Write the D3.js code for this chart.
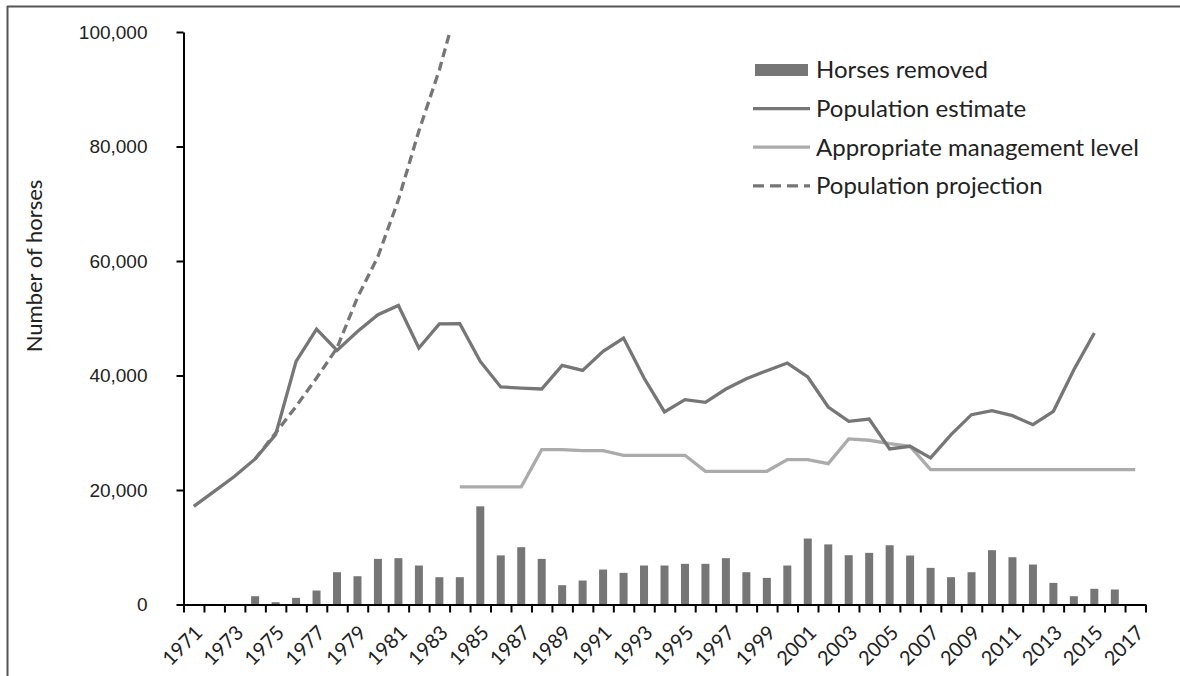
<!DOCTYPE html>
<html>
<head>
<meta charset="utf-8">
<script src="https://cdn.jsdelivr.net/npm/d3@7"></script>
<style>
  body { margin: 0; background: #fff; }
  svg { display: block; font-family: Lato, "Open Sans", sans-serif; }
  .axis path, .axis line { stroke: #000; stroke-width: 2; }
  .axis text { font-size: 19px; fill: #222; }
</style>
</head>
<body>
<script>
// horse counts
var years = d3.range(1971, 2018);

var removedYears = d3.range(1974, 2017);
var removed = [1450, 400, 1160, 2440, 5640, 4940, 7970, 8090, 6810, 4770,
    4770, 17150, 8580, 10010, 7970, 3370, 4190, 6110, 5530, 6810,
    6810, 7100, 7100, 8090, 5640, 4650, 6810, 11520, 10500, 8610,
    9020, 10350, 8550, 6400, 4770, 5640, 9480, 8260, 6980, 3780,
    1450, 2740, 2620];

var estimateYears = d3.range(1971, 2016);
var estimate = [17150, 19770, 22390, 25430, 29670, 42460, 48110, 44380, 47700, 50610,
    52230, 44800, 49000, 49040, 42460, 38000, 37800, 37640, 41760, 40900,
    44210, 46540, 39560, 33630, 35780, 35320, 37640, 39440, 40840, 42180,
    39740, 34500, 31990, 32400, 27170, 27630, 25600, 29670, 33160, 33860,
    32980, 31410, 33740, 41010, 47420];

var amlYears = d3.range(1984, 2018);
var aml = [20540, 20540, 20540, 20540, 27050, 27050, 26880, 26880, 26060, 26060,
    26060, 26060, 23270, 23270, 23270, 23270, 25300, 25300, 24600, 28920,
    28690, 28100, 27630, 23560, 23560, 23560, 23560, 23560, 23560, 23560,
    23560, 23560, 23560, 23560];

var projectionYears = d3.range(1974, 1985);
var projection = [25430, 29960, 34600, 39560, 44800, 53630, 60790, 70680, 82720, 93370, 106300];

var yTicks = [0, 20000, 40000, 60000, 80000, 100000];
var legendItems = ["Horses removed", "Population estimate", "Appropriate management level", "Population projection"];

var width = 1180,
    height = 676;

var dark = "#767676",
    light = "#ababab";

var svg = d3.select("body")
    .append("svg")
    .attr("width", width)
    .attr("height", height);

//frame lines at the top and left
svg.append("line").attr("x1", 7).attr("y1", 6.5).attr("x2", width).attr("y2", 6.5)
    .attr("stroke", "#555").attr("stroke-width", 2);
svg.append("line").attr("x1", 7.5).attr("y1", 6).attr("x2", 7.5).attr("y2", height)
    .attr("stroke", "#555").attr("stroke-width", 2);

var plotLeft = 183.5, plotRight = 1145.5, plotTop = 32, plotBottom = 604.5;

var x = d3.scaleLinear()
    .domain([1970.5, 2017.5])
    .range([plotLeft, plotRight]);

var y = d3.scaleLinear()
    .domain([0, 100000])
    .range([plotBottom, plotTop]);

svg.append("defs").append("clipPath")
    .attr("id", "plot")
    .append("rect")
    .attr("x", plotLeft).attr("y", plotTop)
    .attr("width", plotRight - plotLeft).attr("height", plotBottom - plotTop);

//bars
var barW = 8;
svg.selectAll(".bar")
    .data(removedYears)
    .enter()
    .append("rect")
    .attr("class", "bar")
    .attr("x", function(d){ return x(d) - barW / 2; })
    .attr("y", function(d, i){ return y(removed[i]); })
    .attr("width", barW)
    .attr("height", function(d, i){ return plotBottom - y(removed[i]); })
    .attr("fill", dark);

var line = d3.line()
    .x(function(d){ return x(d[0]); })
    .y(function(d){ return y(d[1]); });

function pairs(ys, vs){
    return ys.map(function(yr, i){ return [yr, vs[i]]; });
}

svg.append("path")
    .datum(pairs(amlYears, aml))
    .attr("d", line)
    .attr("fill", "none")
    .attr("stroke", light)
    .attr("stroke-width", 3.3);

svg.append("path")
    .datum(pairs(estimateYears, estimate))
    .attr("d", line)
    .attr("fill", "none")
    .attr("stroke", dark)
    .attr("stroke-width", 3.3);

svg.append("path")
    .datum(pairs(projectionYears, projection))
    .attr("d", line)
    .attr("clip-path", "url(#plot)")
    .attr("fill", "none")
    .attr("stroke", dark)
    .attr("stroke-width", 3.3)
    .attr("stroke-dasharray", "9,5");

//y axis
svg.append("g")
    .attr("class", "axis")
    .attr("transform", "translate(" + plotLeft + ",0)")
    .call(d3.axisLeft(y).tickValues(yTicks).tickFormat(d3.format(",")).tickSize(7).tickSizeOuter(0).tickPadding(29));

//x axis: ticks between the years
svg.append("g")
    .attr("class", "axis")
    .attr("transform", "translate(0," + plotBottom + ")")
    .call(d3.axisBottom(x).tickValues(d3.range(1970.5, 2018, 1)).tickFormat("").tickSize(8).tickSizeOuter(0));

svg.selectAll(".xlabel")
    .data(years.filter(function(d){ return d % 2 == 1; }))
    .enter()
    .append("text")
    .attr("class", "xlabel")
    .attr("transform", function(d){ return "translate(" + (x(d) + 5) + ",629) rotate(-45)"; })
    .attr("text-anchor", "end")
    .attr("dy", "0.35em")
    .attr("font-size", 20)
    .attr("fill", "#222")
    .text(function(d){ return d; });

svg.append("text")
    .attr("transform", "translate(34,266) rotate(-90)")
    .attr("text-anchor", "middle")
    .attr("dy", "0.35em")
    .attr("font-size", 22)
    .attr("fill", "#222")
    .text("Number of horses");

//legend
var legend = svg.append("g").attr("transform", "translate(753,70)");
var row = legend.selectAll(".leg")
    .data(legendItems)
    .enter()
    .append("g")
    .attr("transform", function(d, i){ return "translate(0," + (i * 38.6) + ")"; });

row.each(function(d, i){
    var g = d3.select(this);
    if (i == 0){
        g.append("rect").attr("x", 2).attr("y", -6).attr("width", 53).attr("height", 12).attr("fill", dark);
    } else {
        g.append("line").attr("x1", 0).attr("x2", 57)
            .attr("stroke", i == 2 ? light : dark)
            .attr("stroke-width", 3.3)
            .attr("stroke-dasharray", i == 3 ? "11,6" : null);
    }
    g.append("text")
        .attr("x", 63)
        .attr("dy", "0.35em")
        .attr("font-size", 24)
        .attr("fill", "#222")
        .text(d);
});
</script>
</body>
</html>
